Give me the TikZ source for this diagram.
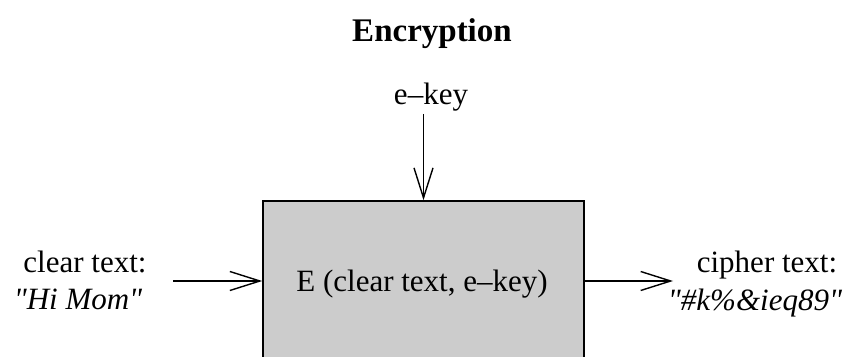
\documentclass[tikz,border=0pt]{standalone}
\usepackage{fontspec}
\setmainfont{Liberation Serif}
\usetikzlibrary{arrows.meta}
\definecolor{boxgray}{gray}{0.8}
\begin{document}
\begin{tikzpicture}[x=1pt,y=1pt,
  lbl/.style={font=\fontsize{31}{38}\selectfont, inner sep=0pt, anchor=base},
  heading/.style={font=\fontsize{33}{40}\selectfont\bfseries, inner sep=0pt, anchor=base},
  flow/.style={line width=1.3pt,
    -{Straight Barb[length=30pt,width=19pt,line width=1.4pt]}},
  block/.style={draw, line width=1.6pt, fill=boxgray,
    minimum width=321pt, minimum height=200pt, inner sep=0pt}
]
\clip (0,0) rectangle (845,356);

% title and key
\node[heading] (title) at (432,314) {Encryption};
\node[lbl] (ekey) at (431,251) {e--key};

% encryption block (runs off the bottom edge)
\node[block] (E) at (423.5,55) {};
\node[lbl] (Etxt) at (422,65) {E (clear text, e--key)};

% input label
\node[lbl] (clear) at (85,84) {clear text:};
\node[lbl] (plain) at (78,47) {\itshape\textquotedbl Hi Mom\textquotedbl};

% output label
\node[lbl] (cipher) at (767,83) {cipher text:};
\node[lbl] (secret) at (755,46) {\itshape\textquotedbl\#k\%\&ieq89\textquotedbl};

% connectors
\coordinate (inTail) at (173,75);
\coordinate (outTip) at (673,75);
\draw[flow] ([yshift=-2pt]ekey.south -| E.north) -- (E.north);
\draw[flow] (inTail) -- (inTail -| E.west);
\draw[flow] (inTail -| E.east) -- (outTip);
\end{tikzpicture}
\end{document}
